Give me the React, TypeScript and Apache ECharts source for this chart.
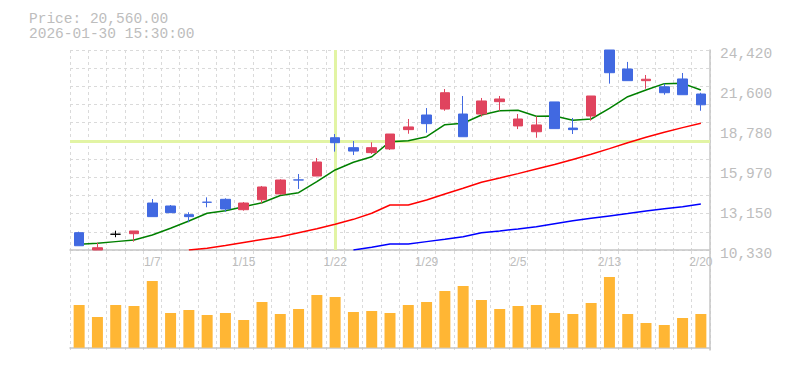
import React, { useEffect, useRef } from "react";
import * as echarts from "echarts";

// ---- data ----
const dates = [
  "12/29", "12/30", "1/5", "1/6", "1/7", "1/8", "1/9", "1/13", "1/14", "1/15",
  "1/16", "1/19", "1/20", "1/21", "1/22", "1/23", "1/26", "1/27", "1/28", "1/29",
  "1/30", "2/2", "2/3", "2/4", "2/5", "2/6", "2/9", "2/10", "2/12", "2/13",
  "2/16", "2/17", "2/18", "2/19", "2/20",
];
const shownDates = ["1/7", "1/15", "1/22", "1/29", "2/5", "2/13", "2/20"];

const opens = [11550, 10330, 11440, 11480, 13640, 13430, 12820, 13700, 13900, 13170, 13870, 14280, 15270, 15540, 18240, 17540, 17190, 17450, 18810, 19840, 20260, 19910, 19910, 20780, 19070, 18660, 20760, 18920, 19770, 24420, 23080, 22260, 21830, 22380, 21320];
const closes = [10630, 10490, 11440, 11670, 12680, 12960, 12680, 13690, 13220, 13640, 14770, 15260, 15260, 16530, 17890, 17300, 17540, 18500, 19000, 19230, 21410, 18310, 20830, 20970, 19560, 19140, 18880, 18810, 21180, 22820, 22260, 22360, 21410, 21270, 20560];
const lows = [10630, 10330, 11230, 10920, 12680, 12960, 12280, 13340, 13030, 13100, 13620, 14230, 14630, 15540, 17260, 17020, 17090, 17380, 18520, 18590, 20140, 18310, 19720, 20140, 18850, 18240, 18880, 18500, 19440, 22050, 22260, 21690, 21270, 21270, 20140];
const highs = [11620, 10840, 11690, 11670, 13920, 13500, 12990, 14040, 13970, 13710, 14840, 15310, 15680, 16810, 18500, 18010, 17920, 18500, 19560, 20330, 21670, 21180, 21040, 21180, 19910, 19750, 20760, 19630, 21180, 24420, 23580, 22660, 22050, 22800, 21410];

const ma5 = [10730, 10800, 10920, 11030, 11390, 11860, 12370, 12920, 13100, 13380, 13660, 14170, 14370, 15140, 15970, 16510, 16900, 17960, 18030, 18310, 19160, 19260, 19840, 20140, 20170, 19750, 19770, 19470, 19560, 20310, 21130, 21600, 22050, 22070, 21600];
const ma25 = [null, null, null, null, null, null, 10330, 10460, 10640, 10860, 11070, 11270, 11550, 11830, 12140, 12490, 12920, 13500, 13500, 13850, 14280, 14680, 15100, 15400, 15710, 16040, 16350, 16710, 17070, 17470, 17890, 18270, 18620, 18950, 19260];
const ma75 = [null, null, null, null, null, null, null, null, null, null, null, null, null, null, null, 10330, 10520, 10750, 10750, 10920, 11080, 11270, 11550, 11670, 11810, 11970, 12180, 12390, 12560, 12730, 12900, 13080, 13230, 13380, 13570];

const volumes = [4270, 3070, 4270, 4170, 6670, 3470, 3770, 3270, 3470, 2770, 4570, 3370, 3870, 5270, 5070, 3570, 3670, 3470, 4270, 4570, 5670, 6170, 4770, 3870, 4170, 4270, 3470, 3370, 4470, 7070, 3370, 2470, 2270, 2970, 3370];

const priceMin = 10330;
const priceMax = 24420;
const priceTicks = ["10,330", "13,150", "15,970", "18,780", "21,600", "24,420"];

const crossDate = "1/22";
const crossPrice = 17960;

const headerPrice = "Price: 20,560.00";
const headerTime = "2026-01-30 15:30:00";

// ---- styles ----
const UP = "#e0445e";
const DOWN = "#4169e1";
const GRID_LINE = { color: "#dadada", type: [3, 3] as number[], width: 1 };
const AXIS_LINE = { color: "#c6c6c6", width: 1.5 };
const TEXT = "#bdbdbd";
const headerStyle = {
  fontFamily: "Liberation Mono",
  fontSize: 14.5,
  fontWeight: "normal",
  color: TEXT,
  lineHeight: 15,
};

export default function App() {
  const ref = useRef<HTMLDivElement>(null);

  useEffect(() => {
    if (!ref.current) return;
    const chart = echarts.init(ref.current, undefined, { renderer: "svg" });
    const option: any = {
      animation: false,
      backgroundColor: "#ffffff",
      title: [
        { text: headerPrice, left: 29, top: 11, padding: 0, textStyle: headerStyle },
        { text: headerTime, left: 29, top: 26, padding: 0, textStyle: headerStyle },
      ],
      grid: [
        { left: 70, right: 75, top: 50, height: 200 },
        { left: 70, right: 75, top: 251, height: 99 },
      ],
      xAxis: [
        {
          type: "category",
          gridIndex: 0,
          data: dates,
          boundaryGap: true,
          axisLine: { lineStyle: AXIS_LINE },
          axisTick: { show: false },
          axisLabel: {
            interval: (_i: number, v: string) => shownDates.includes(v),
            color: TEXT,
            fontFamily: "Liberation Sans",
            fontSize: 12,
            margin: 6,
          },
          splitLine: { show: true, interval: 0, lineStyle: GRID_LINE },
        },
        {
          type: "category",
          gridIndex: 1,
          data: dates,
          boundaryGap: true,
          axisLine: { lineStyle: AXIS_LINE },
          axisTick: { show: false },
          axisLabel: { show: false },
          splitLine: { show: true, interval: 0, lineStyle: GRID_LINE },
        },
      ],
      yAxis: [
        {
          type: "value",
          gridIndex: 0,
          position: "right",
          min: priceMin,
          max: priceMax,
          show: false,
        },
        {
          type: "value",
          gridIndex: 0,
          position: "right",
          min: 0,
          max: 11,
          interval: 1,
          axisLine: { show: false },
          axisTick: { show: false },
          axisLabel: { show: false },
          splitLine: { show: true, lineStyle: GRID_LINE },
        },
        {
          type: "value",
          gridIndex: 0,
          position: "right",
          min: 0,
          max: priceTicks.length - 1,
          interval: 1,
          axisLine: { show: true, lineStyle: AXIS_LINE },
          axisTick: { show: false },
          splitLine: { show: false },
          axisLabel: {
            formatter: (v: number) => "{t|" + priceTicks[Math.round(v)] + "}",
            margin: 10,
            rich: {
              t: {
                color: TEXT,
                fontFamily: "Liberation Mono",
                fontSize: 14.5,
                padding: [7, 0, 0, 0],
              },
            },
          },
        },
        {
          type: "value",
          gridIndex: 1,
          position: "right",
          min: -230,
          max: 9670,
          axisLine: { show: true, lineStyle: AXIS_LINE },
          axisTick: { show: false },
          axisLabel: { show: false },
          splitLine: { show: false },
        },
      ],
      series: [
        {
          name: "crosshair",
          type: "line",
          xAxisIndex: 0,
          yAxisIndex: 0,
          data: dates.map(() => null),
          z: 1,
          silent: true,
          symbol: "none",
          markLine: {
            z: 1,
            silent: true,
            symbol: "none",
            label: { show: false },
            lineStyle: { color: "#e2f4a4", width: 3, type: "solid" },
            data: [{ xAxis: crossDate }, { yAxis: crossPrice }],
          },
        },
        {
          name: "MA75",
          type: "line",
          xAxisIndex: 0,
          yAxisIndex: 0,
          data: ma75,
          symbol: "none",
          z: 2,
          lineStyle: { color: "#0000ff", width: 1.5 },
        },
        {
          name: "MA25",
          type: "line",
          xAxisIndex: 0,
          yAxisIndex: 0,
          data: ma25,
          symbol: "none",
          z: 2,
          lineStyle: { color: "#ff0000", width: 1.5 },
        },
        {
          name: "MA5",
          type: "line",
          xAxisIndex: 0,
          yAxisIndex: 0,
          data: ma5,
          symbol: "none",
          z: 2,
          lineStyle: { color: "#008000", width: 1.5 },
        },
        {
          name: "price",
          type: "candlestick",
          xAxisIndex: 0,
          yAxisIndex: 0,
          z: 3,
          barWidth: 10,
          data: dates.map((_, i) => [opens[i], closes[i], lows[i], highs[i]]),
          itemStyle: {
            color: UP,
            color0: DOWN,
            borderColor: UP,
            borderColor0: DOWN,
            borderColorDoji: "#000000",
            borderWidth: 1,
          },
        },
        {
          name: "volume",
          type: "bar",
          xAxisIndex: 1,
          yAxisIndex: 3,
          barWidth: 11,
          data: volumes,
          itemStyle: { color: "#ffb634" },
        },
      ],
    };
    chart.setOption(option);
    return () => chart.dispose();
  }, []);

  return (
    <div
      ref={ref}
      style={{ position: "fixed", left: 0, top: 0, width: 785, height: 370 }}
    />
  );
}
